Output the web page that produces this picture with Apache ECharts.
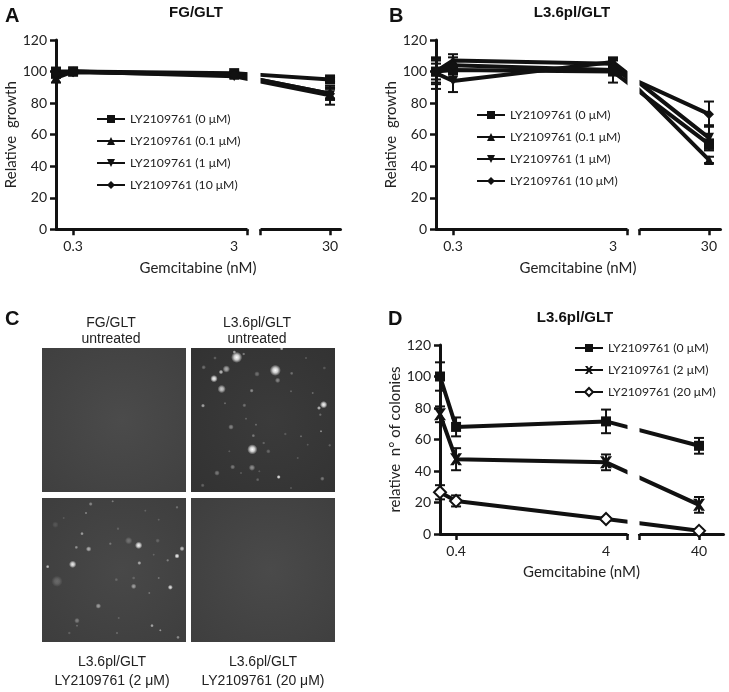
<!DOCTYPE html>
<html><head><meta charset="utf-8">
<style>html,body{margin:0;padding:0;background:#fff}#c{width:729px;height:692px}</style>
<script src="https://cdn.jsdelivr.net/npm/echarts@6/dist/echarts.min.js"></script>
</head><body><div id="c"></div>
<script>
// ---- data ----
const dosesAB = [0, 0.3, 3, 30];
const dosesD = [0, 0.4, 4, 40];
const namesAB = ['LY2109761 (0 μM)', 'LY2109761 (0.1 μM)', 'LY2109761 (1 μM)', 'LY2109761 (10 μM)'];
const namesD = ['LY2109761 (0 μM)', 'LY2109761 (2 μM)', 'LY2109761 (20 μM)'];

const a0 = [100, 100, 99, 95],   a0e = [2, 1, 1, 1.5];
const a1 = [96, 100, 98, 86],    a1e = [3, 1, 1, 4];
const a2 = [98, 100, 97, 85],    a2e = [2, 1, 1, 6];
const a3 = [99, 99.5, 98, 86],   a3e = [2, 1, 1, 3];

const b0 = [100, 101, 100, 54],  b0e = [5, 3, 7, 3];
const b1 = [100, 107, 105, 44],  b1e = [7, 4, 3, 2];
const b2 = [99, 94, 106, 58],    b2e = [10, 7, 3, 8];
const b3 = [100, 104, 101, 73],  b3e = [8, 5, 3, 8];

const d0 = [100, 68, 71.5, 56],  d0e = [9, 6, 7.5, 5];
const d1 = [76, 47.5, 45.5, 18.5], d1e = [5, 7, 5, 5];
const d2 = [26.5, 21, 9.5, 2],   d2e = [4.5, 3.5, 1, 1];

// colony spots in the photographs: [x, y, size, brightness]
const spotsTR = [[137,28,24,1],[253,67,24,1],[184,304,22,1],[69,92,16,.95],[92,123,18,.75],[106,63,16,.6],[90,72,10,.7],[398,170,16,.95],[384,180,9,.7],[130,12,8,.6],[158,18,7,.4],[272,2,8,.7],[36,173,9,.6],[120,237,12,.4],[182,128,9,.45],[198,78,12,.3],[260,97,12,.4],[302,76,8,.3],[183,359,14,.45],[263,387,9,.9],[125,357,11,.35],[78,375,12,.35],[394,392,10,.35],[390,250,6,.5],[330,265,6,.3],[187,263,8,.35],[160,172,9,.3],[102,166,6,.3],[38,58,10,.3],[72,30,8,.25],[232,310,10,.25],[218,285,7,.25],[416,292,7,.25],[35,412,9,.25],[165,212,6,.25],[195,230,6,.3],[300,130,6,.25],[365,135,6,.3],[388,200,7,.3],[283,258,7,.2],[350,290,6,.2],[320,330,6,.2],[205,370,6,.2],[115,310,6,.2],[150,375,6,.2],[345,30,6,.2],[400,60,8,.2],[300,420,6,.2],[200,395,8,.25]];
const spotsBL = [[290,142,16,.95],[92,199,16,.9],[405,174,11,.95],[420,152,11,.7],[385,268,11,.85],[275,265,12,.5],[17,206,8,.7],[140,153,12,.6],[103,148,8,.45],[120,107,8,.55],[292,195,9,.6],[169,324,12,.5],[45,250,24,.22],[260,128,16,.25],[146,18,9,.4],[132,45,6,.4],[212,10,6,.35],[105,368,12,.35],[330,383,8,.6],[355,397,6,.5],[408,418,8,.45],[105,383,6,.25],[205,137,7,.3],[40,80,14,.12],[347,128,10,.2],[228,92,7,.2],[377,187,7,.35],[322,285,6,.3],[223,245,8,.2],[350,240,6,.3],[405,28,7,.3],[350,65,6,.2],[82,405,7,.2],[225,405,6,.25],[310,38,6,.2],[230,360,6,.2],[65,60,6,.15],[275,240,8,.2],[335,170,6,.2]];
const spotsTL = [];
const spotsBR = [];

// ---- chart building ----
const axisFont = 'Lato';
const ink = '#111';
const markersAB = ['rect', 'triangle', 'path://M0 0L10 0L5 10Z', 'diamond'];
const xMark = 'path://M0 0L3 0L5 2.8L7 0L10 0L6.5 5L10 10L7 10L5 7.2L3 10L0 10L3.5 5Z';
const markersD = ['rect', xMark, 'diamond'];

const panels = [
  { grid: [56, 40, 340, 229.3], doses: dosesAB, names: namesAB, markers: markersAB,
    vals: [a0, a1, a2, a3], errs: [a0e, a1e, a2e, a3e],
    min: -0.629, max: 1.539, brk: [0.557, 1.042], gap: 0.08, yName: 'Relative  growth' },
  { grid: [436, 40, 720, 229.3], doses: dosesAB, names: namesAB, markers: markersAB,
    vals: [b0, b1, b2, b3], errs: [b0e, b1e, b2e, b3e],
    min: -0.629, max: 1.546, brk: [0.5646, 1.0396], gap: 0.075, yName: 'Relative  growth' },
  { grid: [440, 345, 723, 534], doses: dosesD, names: namesD, markers: markersD,
    vals: [d0, d1, d2], errs: [d0e, d1e, d2e],
    min: -0.505, max: 1.762, brk: [0.742, 1.202], gap: 0.08, yName: 'relative  n° of colonies' }
];

const grids = [], xAxes = [], yAxes = [], series = [];

panels.forEach((p, i) => {
  grids.push({ left: p.grid[0], top: p.grid[1], width: p.grid[2] - p.grid[0], height: p.grid[3] - p.grid[1] });
  const xOf = d => d === 0 ? p.min : Math.log10(d);
  const labelled = p.doses.slice(1).map(Math.log10);
  const tickVals = [labelled[0], p.brk[0], p.brk[1], labelled[2]];
  xAxes.push({
    type: 'value', gridIndex: i, min: p.min, max: p.max,
    breaks: [{ start: p.brk[0], end: p.brk[1], gap: p.gap }],
    breakArea: { show: true, expandOnClick: false, zigzagAmplitude: 0, zigzagMinSpan: 1000, zigzagMaxSpan: 1000,
      itemStyle: { color: '#fff', opacity: 1, borderColor: 'rgba(0,0,0,0)', borderWidth: 0, shadowBlur: 0 } },
    splitLine: { show: false },
    axisLine: { onZero: false, lineStyle: { color: ink, width: 3 } },
    axisTick: { customValues: tickVals, length: 6, lineStyle: { color: ink, width: 2.5 } },
    axisLabel: { customValues: labelled, margin: 10, color: '#222', fontFamily: axisFont, fontSize: 14,
      formatter: v => String(+Math.pow(10, v).toPrecision(2)) },
    name: 'Gemcitabine (nM)', nameLocation: 'middle', nameGap: 31,
    nameTextStyle: { color: '#222', fontFamily: axisFont, fontSize: 15 }
  });
  yAxes.push({
    type: 'value', gridIndex: i, min: 0, max: 120, interval: 20,
    splitLine: { show: false },
    axisLine: { show: true, onZero: false, lineStyle: { color: ink, width: 3 } },
    axisTick: { show: true, length: 6, lineStyle: { color: ink, width: 2.5 } },
    axisLabel: { margin: 9, color: '#222', fontFamily: axisFont, fontSize: 14 },
    name: p.yName, nameLocation: 'middle', nameGap: 37,
    nameTextStyle: { color: '#222', fontFamily: axisFont, fontSize: 15 }
  });
  p.vals.forEach((vals, k) => {
    const pts = vals.map((v, j) => [xOf(p.doses[j]), v]);
    const open = p.markers === markersD && k === 2;
    const cross = p.markers === markersD && k === 1;
    series.push({
      name: p.names[k], type: 'line', xAxisIndex: i, yAxisIndex: i, data: pts, clip: false,
      symbol: p.markers[k], symbolSize: open ? 12 : (cross ? 12 : 10), showSymbol: true,
      lineStyle: { color: ink, width: 4 },
      itemStyle: open ? { color: '#fff', borderColor: ink, borderWidth: 2 } : { color: ink },
      emphasis: { disabled: true }, z: 3
    });
    series.push({
      name: 'err' + i + k, type: 'custom', xAxisIndex: i, yAxisIndex: i, clip: false, z: 2,
      data: vals.map((v, j) => [xOf(p.doses[j]), v, p.errs[k][j]]),
      renderItem: (params, api) => {
        const x = api.value(0), y = api.value(1), e = api.value(2);
        const top = api.coord([x, y + e]), bot = api.coord([x, y - e]);
        const style = { stroke: ink, lineWidth: 2 };
        const mk = (x1, y1, x2, y2) => ({ type: 'line', shape: { x1, y1, x2, y2 }, style });
        return { type: 'group', children: [
          mk(top[0], top[1], bot[0], bot[1]),
          mk(top[0] - 5, top[1], top[0] + 5, top[1]),
          mk(bot[0] - 5, bot[1], bot[0] + 5, bot[1])
        ] };
      }
    });
  });
});

// photographs
const bgGrad = (inner, outer) => new echarts.graphic.RadialGradient(0.55, 0.5, 0.75,
  [{ offset: 0, color: inner }, { offset: 1, color: outer }]);
const photos = [
  { box: [42, 348, 144, 144], bg: bgGrad('#4b4b4b', '#3f3f3f'), spots: spotsTL },
  { box: [191, 348, 144, 144], bg: bgGrad('#3b3b3b', '#323232'), spots: spotsTR },
  { box: [42, 498, 144, 144], bg: bgGrad('#484848', '#3d3d3d'), spots: spotsBL },
  { box: [191, 498, 144, 144], bg: bgGrad('#4a4a4a', '#3e3e3e'), spots: spotsBR }
];
photos.forEach((ph, n) => {
  const i = panels.length + n;
  grids.push({ left: ph.box[0], top: ph.box[1], width: ph.box[2], height: ph.box[3], show: true,
    backgroundColor: ph.bg, borderWidth: 0 });
  xAxes.push({ type: 'value', gridIndex: i, min: 0, max: 432, show: false });
  yAxes.push({ type: 'value', gridIndex: i, min: 0, max: 432, inverse: true, show: false });
  series.push({
    name: 'spots' + n, type: 'scatter', xAxisIndex: i, yAxisIndex: i, data: ph.spots,
    symbol: 'circle', symbolSize: d => d[2] / 3 * 1.4, emphasis: { disabled: true },
    itemStyle: { opacity: 1, color: prm => {
      const b = prm.data[3];
      return new echarts.graphic.RadialGradient(0.5, 0.5, 0.5, [
        { offset: 0, color: 'rgba(255,255,255,' + b + ')' },
        { offset: 0.45, color: 'rgba(255,255,255,' + b * 0.75 + ')' },
        { offset: 1, color: 'rgba(255,255,255,0)' }
      ]);
    } }
  });
});

// texts
const heading = { fontFamily: 'Liberation Sans', fontWeight: 'bold', color: '#111' };
const plain = { fontFamily: 'Liberation Sans', fontWeight: 'normal', color: '#222', fontSize: 14 };
const letter = (t, left, top) => ({ text: t, left, top, padding: 0, textStyle: { ...heading, fontSize: 20 } });
const head = (t, left, top) => ({ text: t, left, top, padding: 0, textAlign: 'center', textStyle: { ...heading, fontSize: 15 } });
const cap = (t, left, top, lh) => ({ text: t, left, top, padding: 0, textAlign: 'center', textStyle: { ...plain, lineHeight: lh } });
const titles = [
  letter('A', 5, 6), letter('B', 389, 6), letter('C', 5, 309), letter('D', 388, 309),
  head('FG/GLT', 196, 5), head('L3.6pl/GLT', 572, 5), head('L3.6pl/GLT', 575, 310),
  cap('FG/GLT\nuntreated', 111, 315, 16), cap('L3.6pl/GLT\nuntreated', 257, 315, 16),
  cap('L3.6pl/GLT\nLY2109761 (2 μM)', 112, 653, 19), cap('L3.6pl/GLT\nLY2109761 (20 μM)', 263, 653, 19)
];
const legendText = { fontFamily: axisFont, fontSize: 12.2, color: '#222' };
const legend = (names, left, top) => ({
  show: true, orient: 'vertical', left, top, padding: 0, itemWidth: 28, itemHeight: 10, itemGap: 10, zlevel: 1,
  data: names, textStyle: legendText, selectedMode: false, inactiveColor: '#111'
});

const chart = echarts.init(document.getElementById('c'), null, { renderer: 'canvas' });
chart.setOption({
  animation: false, backgroundColor: '#fff',
  title: titles, grid: grids, xAxis: xAxes, yAxis: yAxes, series,
  legend: [legend(namesAB, 96, 113), legend(namesAB, 476, 109), legend(namesD, 574, 342)]
});
</script></body></html>
